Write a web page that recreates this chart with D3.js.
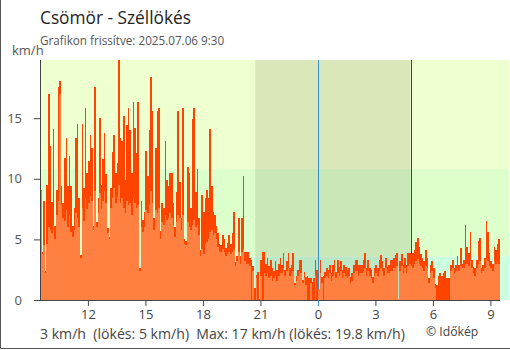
<!DOCTYPE html>
<html>
<head>
<meta charset="utf-8">
<script src="https://cdn.jsdelivr.net/npm/d3@7"></script>
<style>
  html, body { margin: 0; padding: 0; background: #fff; }
  svg { display: block; font-family: "Open Sans", "Noto Sans", sans-serif; }
</style>
</head>
<body>
<svg id="chart" width="510" height="350"></svg>
<script>
// 5-minute wind readings, Csömör, 2025.07.05 9:35 – 2025.07.06 9:30 (km/h)
const startTime = "2025-07-05T09:30";
const stepMinutes = 5;

const gust = [
  // 9:35 – 13:40
  9.1, 4.0, 8.2, 2.4, 9.5, 17.0, 12.7, 8.1, 14.1, 6.1, 9.1, 17.6, 18.1, 9.4, 8.0, 11.7, 13.4, 9.4, 11.9, 9.4,
  6.1, 7.6, 13.4, 14.5, 8.4, 3.7, 14.5, 9.2, 15.8, 10.5, 11.5, 13.6, 12.5, 6.1, 17.6, 6.4, 8.4, 15.0, 9.5, 11.6,
  13.8, 10.4, 5.9, 5.2, 9.2, 12.2, 13.6, 10.5, 11.3, 19.8,
  // 13:45 – 17:50
  13.4, 13.1, 15.2, 9.9, 14.4, 15.8, 14.0, 10.5, 16.3, 14.2, 12.1, 16.3, 2.6, 8.2, 6.6, 7.3, 12.3, 10.2, 14.0, 18.4,
  15.6, 6.8, 12.5, 15.6, 15.8, 5.7, 8.0, 7.6, 13.1, 9.9, 9.4, 10.5, 10.5, 8.0, 6.0, 8.9, 15.6, 9.7, 6.8, 15.8,
  5.0, 4.9, 11.0, 10.5, 7.6, 14.9, 15.8, 8.9, 10.8, 6.8,
  // 17:55 – 22:05
  4.1, 8.7, 7.3, 8.4, 9.1, 8.4, 14.1, 9.4, 7.3, 7.0, 6.1, 5.5, 4.6, 4.5, 5.4, 5.0, 4.3, 4.7, 5.4, 4.6,
  5.5, 7.3, 3.1, 3.6, 6.8, 3.6, 6.8, 10.2, 4.0, 4.0, 4.0, 3.5, 3.3, 2.8, 1.0, 2.1, 2.3, 0.1, 3.3, 4.0,
  4.0, 3.0, 3.5, 2.8, 3.3, 2.6, 2.4, 3.2, 2.5, 3.0, 3.5,
  // 22:10 – 2:15
  2.9, 3.9, 2.5, 3.2, 3.9, 2.6, 2.9, 3.9, 1.4, 2.0, 2.5, 3.3, 3.3, 1.65, 2.3, 1.9, 2.0, 1.8, 1.8, 1.5,
  1.8, 3.3, 2.5, 0.9, 3.3, 1.9, 2.0, 2.3, 2.6, 2.5, 2.9, 2.2, 2.9, 3.3, 2.3, 3.3, 2.75, 3.2, 2.5, 2.9,
  2.75, 2.5, 2.6, 1.9, 2.2, 2.9, 3.3, 3.3, 2.9, 2.9,
  // 2:20 – 6:30
  2.9, 3.3, 3.9, 2.6, 3.3, 2.6, 2.5, 1.9, 2.6, 2.9, 2.6, 3.3, 3.7, 3.2, 2.6, 3.5, 2.75, 2.9, 3.3, 3.3,
  3.5, 3.7, 3.9, 0.1, 3.2, 3.8, 2.9, 3.5, 2.9, 3.9, 3.9, 3.8, 3.9, 4.1, 4.8, 5.1, 4.4, 3.8, 3.5, 3.2,
  4.1, 3.5, 1.8, 2.9, 3.2, 2.6, 1.3, 1.2, 2.0, 2.2, 2.0,
  // 6:35 – 9:30
  2.2, 2.4, 1.8, 1.8, 1.8, 2.9, 3.3, 2.6, 2.9, 3.6, 2.9, 4.3, 3.0, 3.3, 6.2, 4.4, 3.9, 5.6, 3.3, 2.75,
  2.6, 3.3, 4.9, 5.1, 2.6, 2.9, 3.5, 6.5, 5.6, 3.9, 3.2, 3.0, 4.4, 4.1, 4.6, 5.0
];

const avg = [
  9.0, 3.8, 4.5, 2.2, 4.6, 6.0, 5.8, 5.5, 6.2, 5.0, 7.0, 8.2, 17.0, 7.8, 6.8, 6.5, 7.4, 6.0, 7.0, 5.6,
  5.2, 5.8, 7.2, 6.8, 6.0, 3.5, 7.6, 6.5, 8.4, 7.5, 8.0, 8.6, 8.2, 5.8, 9.0, 6.0, 7.2, 8.8, 7.5, 8.2,
  9.0, 8.0, 5.5, 5.0, 7.6, 8.4, 9.2, 8.0, 8.5, 9.5,
  8.0, 8.4, 7.6, 7.2, 8.2, 7.8, 8.0, 7.0, 8.4, 8.0, 7.6, 7.8, 2.4, 6.0, 5.6, 6.0, 7.4, 7.2, 7.8, 9.0,
  8.0, 5.8, 7.4, 7.2, 7.6, 5.0, 6.4, 6.2, 7.0, 6.6, 6.8, 7.2, 6.8, 6.2, 5.2, 6.4, 7.0, 6.8, 5.8, 7.0,
  4.6, 4.5, 6.4, 6.0, 5.8, 6.2, 6.6, 6.0, 6.2, 5.4,
  3.6, 4.2, 3.8, 4.6, 4.8, 5.0, 5.6, 5.8, 5.4, 5.5, 5.0, 4.4, 4.0, 4.0, 4.2, 4.0, 3.6, 3.8, 4.0, 3.8,
  4.0, 4.2, 2.8, 3.2, 4.0, 3.0, 4.0, 4.2, 3.2, 3.0, 3.0, 2.8, 0, 2.4, 0, 1.8, 0, 0, 2.0, 0,
  2.2, 2.0, 2.2, 1.8, 2.0, 1.6, 1.8, 2.0, 1.6, 2.0, 2.2,
  2.2, 2.6, 2.0, 2.4, 2.6, 2.0, 2.2, 2.4, 1.2, 1.6, 2.0, 2.4, 2.2, 1.4, 1.8, 1.2, 0, 0, 1.4, 0,
  0, 2.0, 0, 0.9, 2.2, 1.4, 0, 1.8, 2.0, 1.8, 2.2, 1.6, 2.0, 2.4, 1.8, 2.2, 2.0, 2.4, 1.8, 2.2,
  2.0, 1.8, 2.0, 1.4, 1.6, 2.2, 2.4, 2.4, 2.0, 2.2,
  2.2, 2.4, 2.6, 2.0, 2.4, 2.0, 1.8, 1.4, 2.0, 2.2, 2.0, 2.4, 2.6, 2.4, 2.0, 2.6, 2.2, 2.2, 2.4, 2.4,
  2.6, 2.6, 2.8, 0.1, 2.4, 2.8, 2.2, 2.6, 2.2, 2.8, 3.0, 2.8, 2.6, 3.0, 3.2, 3.4, 3.0, 2.8, 2.6, 2.4,
  2.8, 2.6, 1.4, 2.2, 2.4, 1.8, 1.0, 0, 0, 0, 0,
  0, 0, 0, 0, 0, 2.4, 2.6, 2.2, 2.4, 2.6, 2.4, 2.8, 2.6, 2.6, 3.0, 3.0, 2.8, 3.2, 2.6, 2.2,
  2.0, 2.6, 3.0, 3.2, 2.2, 2.4, 2.6, 3.4, 3.2, 2.8, 2.6, 2.4, 3.2, 3.0, 3.2, 3.0
];

const yTicks = [0, 5, 10, 15];
const xTicks = ["2025-07-05T12:00", "2025-07-05T15:00", "2025-07-05T18:00", "2025-07-05T21:00",
                "2025-07-06T00:00", "2025-07-06T03:00", "2025-07-06T06:00", "2025-07-06T09:00"];
const bandLimits = [0, 3.6, 10.8, 19.8];
const bandColors = ["#ccffdd", "#ddffcc", "#eeffd0"];
const sunset = "2025-07-05T20:44";
const sunrise = "2025-07-06T04:50";
const midnight = "2025-07-06T00:00";
const titleText = "Csömör - Széllökés";
const updatedText = "Grafikon frissítve: 2025.07.06 9:30";

const parse = d3.timeParse("%Y-%m-%dT%H:%M");
const t0 = parse(startTime);
const t1 = d3.timeMinute.offset(t0, stepMinutes * gust.length);

const svg = d3.select("#chart");
const plot = { left: 40, right: 500, top: 60, bottom: 300, bgRight: 509 };

const x = d3.scaleTime().domain([t0, t1]).range([plot.left, plot.right]);
const y = d3.scaleLinear().domain([0, 19.8]).range([plot.bottom, plot.top]);

// background bands
svg.append("g").selectAll("rect")
  .data(bandColors)
  .join("rect")
  .attr("x", plot.left)
  .attr("width", plot.bgRight - plot.left)
  .attr("y", (c, i) => y(bandLimits[i + 1]))
  .attr("height", (c, i) => y(bandLimits[i]) - y(bandLimits[i + 1]))
  .attr("fill", c => c);

// night
svg.append("rect")
  .attr("x", x(parse(sunset)))
  .attr("width", x(parse(sunrise)) - x(parse(sunset)))
  .attr("y", plot.top)
  .attr("height", plot.bottom - plot.top)
  .attr("fill", "rgba(40,20,0,0.1)");

svg.append("line")
  .attr("x1", Math.round(x(parse(sunrise))) + 0.5).attr("x2", Math.round(x(parse(sunrise))) + 0.5)
  .attr("y1", plot.top).attr("y2", plot.bottom)
  .attr("stroke", "#444").attr("stroke-width", 1);

// bars
const rows = gust.map((g, i) => ({
  t: d3.timeMinute.offset(t0, stepMinutes * i),
  gust: g,
  avg: avg[i]
}));
const bw = d => x(d3.timeMinute.offset(d.t, stepMinutes)) - x(d.t);

const bars = svg.append("g").attr("shape-rendering", "crispEdges");
bars.selectAll("rect.g")
  .data(rows)
  .join("rect")
  .attr("class", "g")
  .attr("x", d => x(d.t))
  .attr("width", bw)
  .attr("y", d => y(d.gust))
  .attr("height", d => y(0) - y(d.gust))
  .attr("fill", "#ff4400");
bars.selectAll("rect.a")
  .data(rows)
  .join("rect")
  .attr("class", "a")
  .attr("x", d => x(d.t))
  .attr("width", bw)
  .attr("y", d => y(d.avg))
  .attr("height", d => y(0) - y(d.avg))
  .attr("fill", "#ff8040");

// midnight marker
const mx = Math.round(x(parse(midnight))) + 0.5;
svg.append("line")
  .attr("x1", mx).attr("x2", mx)
  .attr("y1", plot.top).attr("y2", 289)
  .attr("stroke", "#3a8fc9").attr("stroke-width", 1);

// axes
const yAxis = svg.append("g")
  .attr("transform", `translate(${plot.left},0)`)
  .call(d3.axisLeft(y).tickValues(yTicks).tickSize(6).tickPadding(12).tickFormat(d3.format("d")));
yAxis.select(".domain").attr("d", `M0.5,${plot.top}V${plot.bottom}`).attr("stroke", "#444");
yAxis.selectAll(".tick line").attr("stroke", "#444");
yAxis.selectAll(".tick text").attr("fill", "#555").attr("font-size", 13)
  .attr("font-family", "'Open Sans', sans-serif");

const xAxis = svg.append("g")
  .attr("transform", `translate(0,${plot.bottom})`)
  .call(d3.axisBottom(x).tickValues(xTicks.map(parse)).tickSize(6).tickPadding(4)
    .tickFormat(d3.timeFormat("%-H")));
xAxis.select(".domain").attr("d", `M${plot.left},0.5H${plot.right}`).attr("stroke", "#444");
xAxis.selectAll(".tick line").attr("stroke", d => +d === +parse(midnight) ? "#3a8fc9" : "#444");
xAxis.selectAll(".tick text").attr("fill", "#444").attr("font-size", 13)
  .attr("font-family", "'Open Sans', sans-serif");

// texts
svg.append("text").attr("x", 40).attr("y", 24)
  .attr("font-size", 17.3).attr("fill", "#222").text(titleText);
svg.append("text").attr("x", 40).attr("y", 45)
  .attr("font-size", 11.7).attr("fill", "#555").text(updatedText);
svg.append("text").attr("x", 12).attr("y", 55)
  .attr("font-size", 13).attr("fill", "#555").text("km/h");

const fmt = v => String(Math.round(v * 10) / 10);
const last = rows[rows.length - 1];
const summary = `${Math.round(last.avg)} km/h  (lökés: ${Math.round(last.gust)} km/h)  Max: ${Math.round(d3.max(avg))} km/h (lökés: ${fmt(d3.max(gust))} km/h)`;
svg.append("text").attr("x", 40).attr("y", 339)
  .attr("font-size", 14.1).attr("fill", "#444").style("white-space", "pre").text(summary);
svg.append("text").attr("x", 426).attr("y", 336)
  .attr("font-size", 12.2).attr("fill", "#444").text("© Időkép");

// frame
svg.append("path").attr("d", "M0.5,0V348.5H510").attr("fill", "none").attr("stroke", "#555");
</script>
</body>
</html>
